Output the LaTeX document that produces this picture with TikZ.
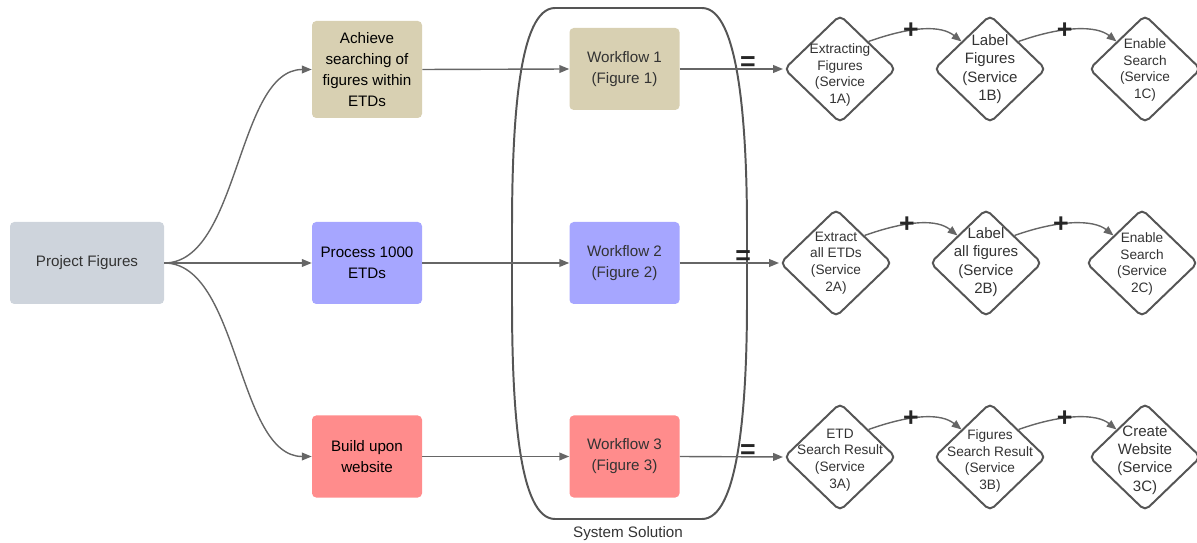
\documentclass[tikz,border=0pt]{standalone}
\usepackage{fontspec}
\setmainfont{Liberation Sans}
\usetikzlibrary{shapes.geometric,arrows.meta}
\definecolor{pfgray}{HTML}{CED4DC}
\definecolor{tanbox}{HTML}{D8D0B2}
\definecolor{purpbox}{HTML}{A6A6FF}
\definecolor{pinkbox}{HTML}{FF8C8C}
\definecolor{linegray}{HTML}{666666}
\definecolor{diagray}{HTML}{555555}
\definecolor{txtgray}{HTML}{333333}
\newcommand{\pxu}{0.025cm}
\begin{document}
\begin{tikzpicture}[x=0.025cm,y=-0.025cm,
  box/.style={draw=none,rounded corners=3pt,minimum width={110*\pxu},minimum height={82*\pxu},align=center,font=\fontsize{10.8}{15}\selectfont,inner sep=0pt},
  dia/.style={diamond,draw=diagray,line width=1.4pt,rounded corners=4pt,minimum width={112*\pxu},minimum height={108*\pxu},inner sep=0pt},
  dtext/.style={align=center,font=\fontsize{9.7}{11.8}\selectfont,text=txtgray,inner sep=0pt},
  dbig/.style={align=center,font=\fontsize{10.7}{13}\selectfont,text=txtgray,inner sep=0pt},
  conn/.style={draw=linegray,line width=1pt,-{Triangle[length=7pt,width=5.5pt]}},
  sym/.style={font=\fontsize{19}{19}\bfseries\selectfont,text=black!85,inner sep=0pt},
  ovalst/.style={draw=diagray,line width=1.4pt}
]
\useasboundingbox (0,0) rectangle (1197,543);

% system solution outline
\draw[ovalst] (555,8) -- (702,8) .. controls (738,8) and (747,120) .. (747,230) -- (747,300)
  .. controls (747,410) and (738,519) .. (702,519) -- (555,519)
  .. controls (519,519) and (512,410) .. (512,300) -- (512,230)
  .. controls (512,120) and (519,8) .. (555,8) -- cycle;
\node[font=\fontsize{10.8}{13}\selectfont,text=txtgray] (sys) at (628,534) {System Solution};

% boxes
\node[box,fill=pfgray,minimum width={154*\pxu},text=txtgray] (pf) at (87,263) {Project Figures};
\node[box,fill=tanbox,minimum height={97*\pxu}] (g1) at (367,69.5) {Achieve\\searching of\\figures within\\ETDs};
\node[box,fill=purpbox] (g2) at (367,263) {Process 1000\\ETDs};
\node[box,fill=pinkbox] (g3) at (367,456.5) {Build upon\\website};
\node[box,fill=tanbox,text=txtgray] (w1) at (624.5,69) {Workflow 1\\(Figure 1)};
\node[box,fill=purpbox,text=txtgray] (w2) at (624.5,263) {Workflow 2\\(Figure 2)};
\node[box,fill=pinkbox,text=txtgray] (w3) at (624.5,456.5) {Workflow 3\\(Figure 3)};

% diamonds
\node[dia] (d1a) at (840,69) {};
\node[dia] (d1b) at (990,69) {};
\node[dia] (d1c) at (1145,69) {};
\node[dia] (d2a) at (836,263) {};
\node[dia] (d2b) at (986,263) {};
\node[dia] (d2c) at (1142,263) {};
\node[dia] (d3a) at (840,457) {};
\node[dia] (d3b) at (990,457) {};
\node[dia] (d3c) at (1145,457) {};

\node[dtext] (t1a) at (840,75) {Extracting\\Figures\\(Service\\1A)};
\node[dbig] (t1b) at (990,69) {Label\\Figures\\(Service\\1B)};
\node[dtext] (t1c) at (1145,70) {Enable\\Search\\(Service\\1C)};
\node[dtext] (t2a) at (836,263) {Extract\\all ETDs\\(Service\\2A)};
\node[dbig] (t2b) at (986,262) {Label\\all figures\\(Service\\2B)};
\node[dtext] (t2c) at (1142,264) {Enable\\Search\\(Service\\2C)};
\node[dtext] (t3a) at (840,460) {ETD\\Search Result\\(Service\\3A)};
\node[dtext] (t3b) at (990,461) {Figures\\Search Result\\(Service\\3B)};
\node[dbig] (t3c) at (1145,460) {Create\\Website\\(Service\\3C)};

% connectors from project figures
\draw[conn] (pf.east) .. controls +(75,0) and +(-75,0) .. (g1.west);
\draw[conn] (pf.east) -- (g2.west);
\draw[conn] (pf.east) .. controls +(75,0) and +(-75,0) .. (g3.west);

% goals to workflows
\draw[conn] (g1.east) -- (w1.west);
\draw[conn] (g2.east) -- (w2.west);
\draw[conn] (g3.east) -- (w3.west);

% workflows to services
\draw[conn] (w1.east) -- node[sym,pos=0.66,yshift=4pt] (eq1) {=} (d1a.west);
\draw[conn] (w2.east) -- node[sym,pos=0.64,yshift=4pt] (eq2) {=} (d2a.west);
\draw[conn] (w3.east) -- node[sym,pos=0.66,yshift=4pt] (eq3) {=} (d3a.west);

% service chains
\draw[conn] (d1a.north east) .. controls +(45,-16) and +(-20,-16) .. node[sym,pos=0.36] (p1a) {+} (d1b.north west);
\draw[conn] (d1b.north east) .. controls +(45,-16) and +(-20,-16) .. node[sym,pos=0.38] (p1b) {+} (d1c.north west);
\draw[conn] (d2a.north east) .. controls +(45,-16) and +(-20,-16) .. node[sym,pos=0.36] (p2a) {+} (d2b.north west);
\draw[conn] (d2b.north east) .. controls +(45,-16) and +(-20,-16) .. node[sym,pos=0.38] (p2b) {+} (d2c.north west);
\draw[conn] (d3a.north east) .. controls +(45,-16) and +(-20,-16) .. node[sym,pos=0.36] (p3a) {+} (d3b.north west);
\draw[conn] (d3b.north east) .. controls +(45,-16) and +(-20,-16) .. node[sym,pos=0.38] (p3b) {+} (d3c.north west);
\end{tikzpicture}
\end{document}
